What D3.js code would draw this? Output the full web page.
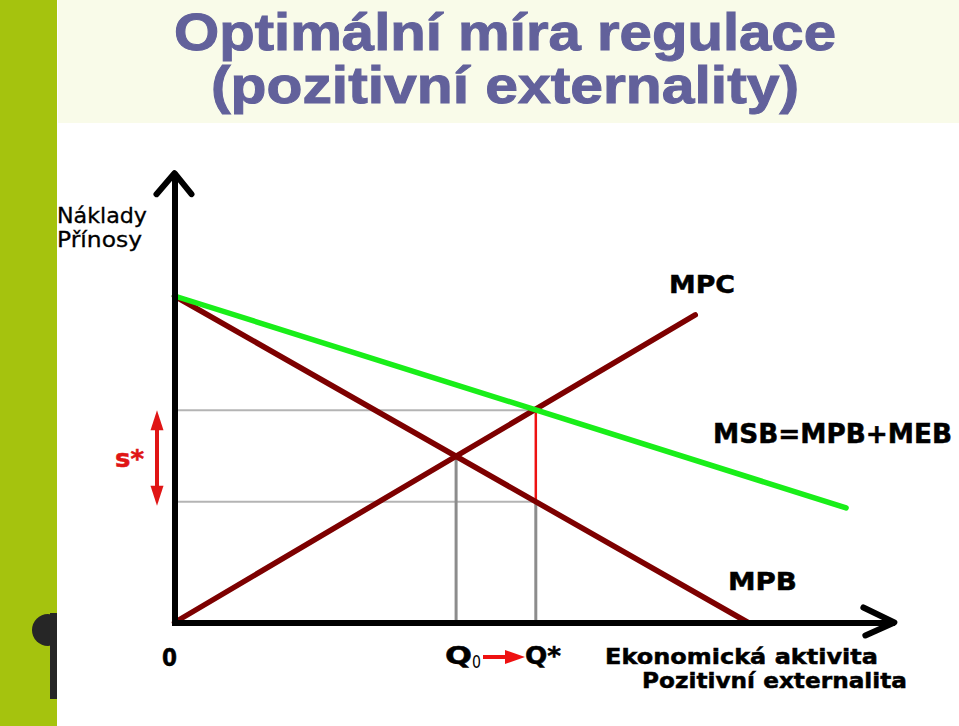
<!DOCTYPE html>
<html><head><meta charset="utf-8">
<script src="https://cdn.jsdelivr.net/npm/d3@7/dist/d3.min.js"></script>
<style>body{margin:0;background:#fff}svg{display:block}</style>
</head><body>
<script>
// ---- data (abstract units, 0..100) ----
const titleLines = ["Optimální míra regulace", "(pozitivní externality)"];
const yAxisLabels = ["Náklady", "Přínosy"];
const xAxisLabels = ["Ekonomická aktivita", "Pozitivní externalita"];
const curveNames = ["MPB", "MPC", "MSB=MPB+MEB"];
const mpbX = [0, 100],   mpbY = [100, 0];
const mpcX = [0, 90.8],  mpcY = [0, 94.2];
const msbX = [0, 117.1], msbY = [100, 35.1];
const q0 = [49.1, 50.9];        // MPB ∩ MPC
const qStar = [63.0, 65.0];     // MSB ∩ MPC
const mpbAtQStar = 37.0;        // MPB value at Q*
const xMax = 125, yMax = 137;

const W = 959, H = 726;
const svg = d3.select("body").append("svg").attr("width", W).attr("height", H);

// background decoration
svg.append("rect").attr("x",0).attr("y",0).attr("width",57).attr("height",H).attr("fill","#a5c30e");
svg.append("rect").attr("x",58).attr("y",0).attr("width",W-58).attr("height",123).attr("fill","#f9fbe9");
const clip = svg.append("clipPath").attr("id","lc");
clip.append("rect").attr("x",0).attr("y",0).attr("width",57).attr("height",H);
const deco = svg.append("g").attr("clip-path","url(#lc)");
deco.append("circle").attr("cx",48).attr("cy",630).attr("r",16).attr("fill","#262626");
deco.append("rect").attr("x",50).attr("y",613).attr("width",8).attr("height",86).attr("fill","#262626");

// title
svg.selectAll("text.title").data(titleLines).join("text")
  .attr("x", 505).attr("y", (d,i)=> i===0 ? 50 : 103)
  .attr("text-anchor","middle")
  .attr("font-family","Liberation Sans, Arial, sans-serif")
  .attr("font-weight","bold").attr("font-size", 52)
  .attr("fill","#62619b").attr("stroke","#62619b").attr("stroke-width",1)
  .attr("textLength",(d,i)=> i===0 ? 662 : 588)
  .attr("lengthAdjust","spacingAndGlyphs")
  .text(d=>d);

// scales
const x = d3.scaleLinear().domain([0, xMax]).range([174.5, 174.5 + xMax*5.735]);
const y = d3.scaleLinear().domain([0, yMax]).range([622.5, 622.5 - yMax*3.265]);

// guide lines
const g = svg.append("g");
g.append("line").attr("x1",x(0)).attr("x2",x(qStar[0])).attr("y1",y(qStar[1])).attr("y2",y(qStar[1]))
  .attr("stroke","#b4b4b4").attr("stroke-width",2);
g.append("line").attr("x1",x(0)).attr("x2",x(qStar[0])).attr("y1",y(mpbAtQStar)).attr("y2",y(mpbAtQStar))
  .attr("stroke","#b4b4b4").attr("stroke-width",2);
g.append("line").attr("x1",x(q0[0])).attr("x2",x(q0[0])).attr("y1",y(q0[1])).attr("y2",y(0))
  .attr("stroke","#8c8c8c").attr("stroke-width",3);
g.append("line").attr("x1",x(qStar[0])).attr("x2",x(qStar[0])).attr("y1",y(mpbAtQStar)).attr("y2",y(0))
  .attr("stroke","#8c8c8c").attr("stroke-width",3);
g.append("line").attr("x1",x(qStar[0])).attr("x2",x(qStar[0])).attr("y1",y(qStar[1])).attr("y2",y(mpbAtQStar))
  .attr("stroke","#ee1111").attr("stroke-width",2.5);

// curves
const line = d3.line().x(d=>x(d[0])).y(d=>y(d[1]));
const curves = [
  {xs: mpbX, ys: mpbY, c: "#7d0000"},
  {xs: mpcX, ys: mpcY, c: "#7d0000"},
  {xs: msbX, ys: msbY, c: "#19ee19"}
];
svg.append("g").selectAll("path").data(curves).join("path")
  .attr("d", d => line(d.xs.map((v,i)=>[v, d.ys[i]])))
  .attr("fill","none").attr("stroke", d=>d.c).attr("stroke-width",5.5).attr("stroke-linecap","round");

// axes
const xAxis = d3.axisBottom(x).tickValues([]).tickSizeOuter(0);
const yAxis = d3.axisLeft(y).tickValues([]).tickSizeOuter(0);
const gx = svg.append("g").attr("transform",`translate(0,${y(0)})`).call(xAxis);
const gy = svg.append("g").attr("transform",`translate(${x(0)},0)`).call(yAxis);
[gx, gy].forEach(a => a.select(".domain").attr("stroke","#000").attr("stroke-width",6).attr("stroke-linecap","square"));
// arrowheads
const ax = x(xMax), ay = y(yMax);
svg.append("path").attr("d", `M${ax-28},${y(0)-15} L${ax+3},${y(0)} L${ax-26},${y(0)+13}`)
  .attr("fill","none").attr("stroke","#000").attr("stroke-width",6).attr("stroke-linecap","round").attr("stroke-linejoin","round");
svg.append("path").attr("d", `M${x(0)-18},${ay+19} L${x(0)},${ay-2} L${x(0)+17},${ay+19}`)
  .attr("fill","none").attr("stroke","#000").attr("stroke-width",6).attr("stroke-linecap","round").attr("stroke-linejoin","round");

// labels
const lab = (t, px, py, opts={}) => {
  const e = svg.append("text").attr("x",px).attr("y",py)
    .attr("font-family","DejaVu Sans, Verdana, sans-serif")
    .attr("font-weight", opts.weight || "bold")
    .attr("font-size", opts.size || 24)
    .attr("fill", opts.fill || "#000")
    .attr("stroke", opts.fill || "#000").attr("stroke-width", opts.sw === undefined ? 0.5 : opts.sw)
    .text(t);
  if (opts.len) e.attr("textLength", opts.len).attr("lengthAdjust","spacingAndGlyphs");
  return e;
};
lab(yAxisLabels[0], 57, 223, {weight:"normal", size:21, len:90, sw:0.3});
lab(yAxisLabels[1], 57, 247, {weight:"normal", size:21, len:85, sw:0.3});
lab(curveNames[1], 669, 293, {size:25, len:66});
lab(curveNames[2], 713, 443, {size:26, len:239});
lab(curveNames[0], 728, 590, {size:25, len:69});
lab("0", 162, 666, {size:24, len:15});
lab(xAxisLabels[0], 605, 664, {size:22, len:273});
lab(xAxisLabels[1], 642, 688, {size:22, len:265});

// Q labels
lab("Q", 445, 664, {size:24, len:27});
lab("0", 472, 668, {weight:"normal", size:17, len:9, sw:0});
lab("Q*", 525, 664, {size:24, len:36});
lab("s*", 115, 467, {size:24, fill:"#e01515", len:29});

// red arrow Q0 -> Q*
svg.append("line").attr("x1",483).attr("x2",508).attr("y1",657).attr("y2",657)
  .attr("stroke","#ee1111").attr("stroke-width",4);
svg.append("path").attr("d","M505,650 L525,657 L505,664 Z").attr("fill","#ee1111");

// s* double arrow between the two price levels
const sx = 157;
svg.append("line").attr("x1",sx).attr("x2",sx).attr("y1",y(qStar[1])+15).attr("y2",y(mpbAtQStar)-15)
  .attr("stroke","#e01515").attr("stroke-width",4);
svg.append("path").attr("d",`M${sx},${y(qStar[1])} L${sx+6.5},${y(qStar[1])+20} L${sx-6.5},${y(qStar[1])+20} Z`).attr("fill","#e01515");
svg.append("path").attr("d",`M${sx},${y(mpbAtQStar)+4} L${sx+6.5},${y(mpbAtQStar)-16} L${sx-6.5},${y(mpbAtQStar)-16} Z`).attr("fill","#e01515");
</script>
</body></html>
